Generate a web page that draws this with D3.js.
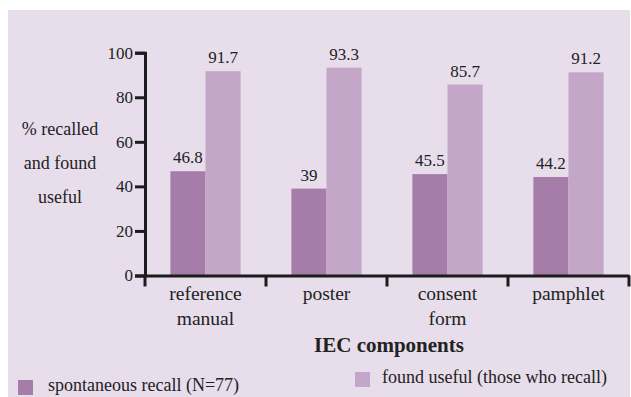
<!DOCTYPE html>
<html>
<head>
<meta charset="utf-8">
<script src="https://cdn.jsdelivr.net/npm/d3@7"></script>
<style>
  html, body { margin: 0; padding: 0; background: #ffffff; }
  svg { display: block; }
  svg text { font-family: "Liberation Serif", "Times New Roman", Tinos, "DejaVu Serif", "Noto Serif", serif !important; fill: #222; }
</style>
</head>
<body>
<svg id="chart" width="631" height="397"></svg>
<script>
// IEC components recalled and found useful
const categories = ["reference manual", "poster", "consent form", "pamphlet"];
const seriesNames = ["spontaneous recall (N=77)", "found useful (those who recall)"];
const recallValues = [46.8, 39, 45.5, 44.2];
const usefulValues = [91.7, 93.3, 85.7, 91.2];
const yTicks = [0, 20, 40, 60, 80, 100];
const yTitleLines = ["% recalled", "and found", "useful"];
const xTitle = "IEC components";

const colors = ["#a67ca9", "#c4a7c8"];
const axisColor = "#1c1c1c";

const svg = d3.select("#chart");

// panel background
svg.append("rect")
  .attr("x", 8).attr("y", 10)
  .attr("width", 622).attr("height", 387)
  .attr("fill", "#e7ddeb");

const plot = { left: 145, right: 629, top: 52.7, bottom: 275.5 };

const x = d3.scaleBand()
  .domain(categories)
  .range([plot.left, plot.right])
  .paddingInner(0.42)
  .paddingOuter(0.21);

const xSub = d3.scaleBand()
  .domain([0, 1])
  .range([0, x.bandwidth()]);

const y = d3.scaleLinear()
  .domain([0, 100])
  .range([plot.bottom, plot.top]);

const rows = categories.map((c, i) => ({ cat: c, vals: [recallValues[i], usefulValues[i]] }));

// bars
const groups = svg.append("g").selectAll("g")
  .data(rows)
  .join("g")
  .attr("transform", d => `translate(${x(d.cat)},0)`);

groups.selectAll("rect")
  .data(d => d.vals.map((v, k) => ({ v, k })))
  .join("rect")
  .attr("x", d => xSub(d.k))
  .attr("y", d => y(d.v))
  .attr("width", xSub.bandwidth())
  .attr("height", d => y(0) - y(d.v))
  .attr("fill", d => colors[d.k]);

// value labels
groups.selectAll("text.val")
  .data(d => d.vals.map((v, k) => ({ v, k })))
  .join("text")
  .attr("class", "val")
  .attr("x", d => xSub(d.k) + xSub.bandwidth() / 2)
  .attr("y", d => y(d.v) - 8)
  .attr("text-anchor", "middle")
  .attr("font-size", 17)
  .text(d => d.v);

// y axis
const yAxis = svg.append("g")
  .attr("transform", `translate(${plot.left},0)`)
  .call(d3.axisLeft(y).tickValues(yTicks).tickSize(10).tickPadding(2).tickFormat(d3.format("d")));
yAxis.attr("font-family", null);
yAxis.select(".domain").attr("stroke", axisColor).attr("stroke-width", 3);
yAxis.selectAll(".tick line").attr("stroke", axisColor).attr("stroke-width", 3);
yAxis.selectAll(".tick text")
  .attr("font-size", 17)
  .attr("fill", "#222");

// x axis: baseline plus boundary ticks between categories
const xAxis = svg.append("g")
  .attr("transform", `translate(0,${plot.bottom})`)
  .call(d3.axisBottom(x).tickSize(0).tickFormat(""));
xAxis.select(".domain").attr("stroke", axisColor).attr("stroke-width", 3);

const boundaries = d3.range(categories.length + 1).map(i => plot.left + i * x.step());
svg.append("g").selectAll("line")
  .data(boundaries)
  .join("line")
  .attr("x1", d => d).attr("x2", d => d)
  .attr("y1", plot.bottom).attr("y2", plot.bottom + 11)
  .attr("stroke", axisColor)
  .attr("stroke-width", 3);

// category labels
svg.append("g").selectAll("text")
  .data(categories)
  .join("text")
  .attr("x", d => x(d) + x.bandwidth() / 2)
  .attr("y", 300)
  .attr("text-anchor", "middle")
  .attr("font-size", 19.5)
  .selectAll("tspan")
  .data(d => d.split(" "))
  .join("tspan")
  .attr("x", function () { return d3.select(this.parentNode).attr("x"); })
  .attr("dy", (d, i) => i === 0 ? 0 : 25)
  .text(d => d);

// axis titles
svg.append("text")
  .attr("x", (plot.left + plot.right) / 2 + 2)
  .attr("y", 352)
  .attr("text-anchor", "middle")
  .attr("font-size", 21)
  .attr("font-weight", "bold")
  .text(xTitle);

svg.append("g").selectAll("text")
  .data(yTitleLines)
  .join("text")
  .attr("x", 60)
  .attr("y", (d, i) => 135 + i * 34)
  .attr("text-anchor", "middle")
  .attr("font-size", 18)
  .text(d => d);

// legend
const legendPos = [{ x: 18, y: 380 }, { x: 355, y: 372 }];
const legend = svg.append("g").selectAll("g")
  .data(seriesNames)
  .join("g")
  .attr("transform", (d, i) => `translate(${legendPos[i].x},${legendPos[i].y})`);
legend.append("rect")
  .attr("width", 15).attr("height", 15)
  .attr("fill", (d, i) => colors[i]);
legend.append("text")
  .attr("x", (d, i) => i === 0 ? 30 : 27)
  .attr("y", 11)
  .attr("font-size", 18)
  .text(d => d);
</script>
</body>
</html>
